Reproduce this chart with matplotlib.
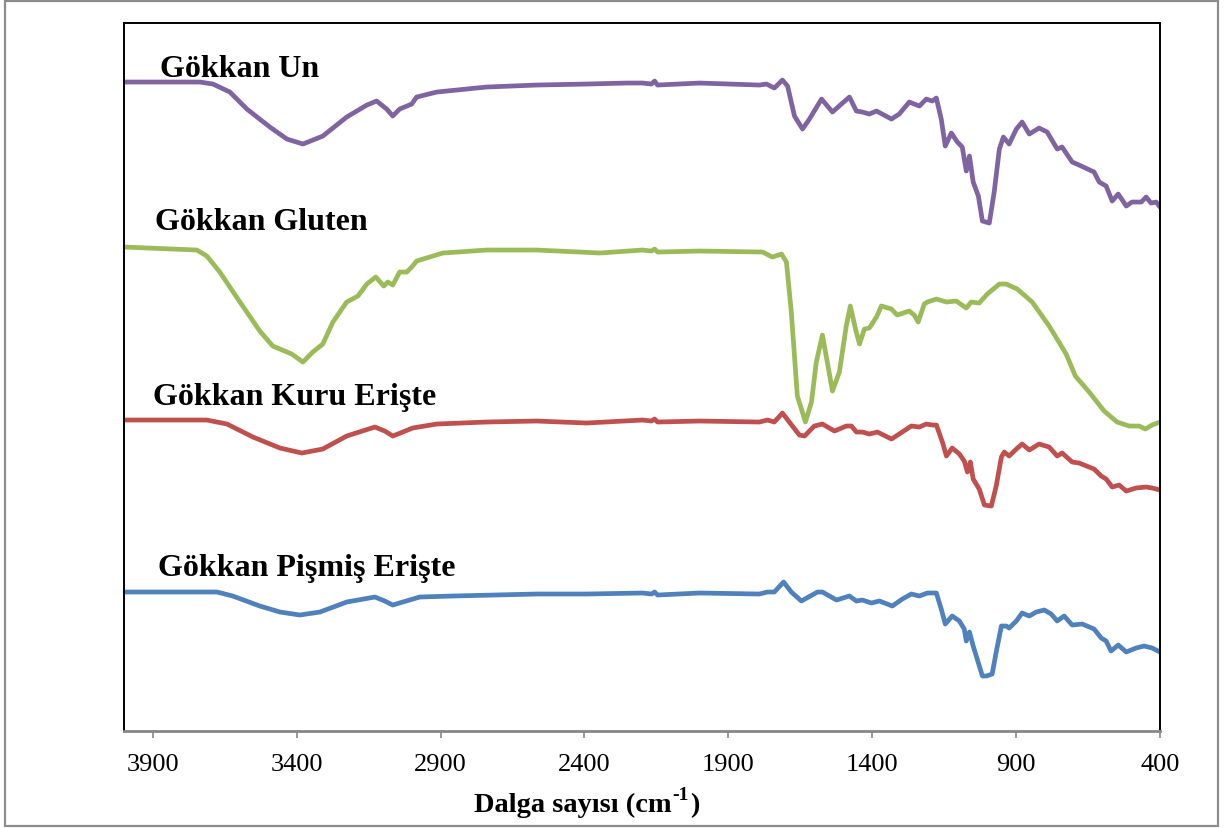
import matplotlib.pyplot as plt
from matplotlib.patches import Rectangle

# FTIR spektrumları (dalga sayısı cm-1, göreli geçirgenlik - kaydırılmış)
un_wn = [4000, 3736, 3691, 3632, 3573, 3493, 3434, 3378, 3309, 3226, 3156, 3122, 3087, 3066, 3042,
         3000, 2983, 2913, 2740, 2566, 2392, 2254, 2198, 2167, 2156, 2146, 2000, 1792, 1767, 1740,
         1712, 1694, 1670, 1642, 1618, 1576, 1538, 1507, 1479, 1455, 1434, 1410, 1385, 1333, 1306,
         1271, 1236, 1212, 1191, 1177, 1160, 1146, 1125, 1104, 1087, 1073, 1062, 1049, 1031, 1017,
         993, 976, 958, 944, 924, 899, 879, 854, 820, 792, 757, 740, 705, 681, 629, 611, 587, 566,
         545, 517, 497, 465, 448, 431, 413, 400]
un_t = [65.0, 65.0, 64.8, 64.0, 62.3, 60.5, 59.3, 58.8, 59.6, 61.5, 62.7, 63.1, 62.3, 61.6, 62.3,
        62.8, 63.5, 64.0, 64.5, 64.7, 64.8, 64.9, 64.9, 64.8, 65.1, 64.7, 64.9, 64.7, 64.8, 64.4,
        65.2, 64.6, 61.6, 60.3, 61.3, 63.3, 62.0, 62.8, 63.5, 62.1, 62.0, 61.8, 62.1, 61.3, 61.8,
        63.0, 62.6, 63.3, 63.1, 63.4, 61.3, 58.6, 59.9, 59.0, 58.5, 56.1, 57.6, 55.0, 53.6, 51.1,
        50.9, 54.0, 58.3, 59.5, 58.8, 60.3, 61.0, 59.8, 60.4, 60.0, 58.3, 58.5, 57.0, 56.7, 56.0,
        55.0, 54.6, 53.1, 53.8, 52.6, 53.0, 53.0, 53.5, 52.9, 53.0, 52.5]

gluten_wn = [4000, 3747, 3712, 3667, 3597, 3528, 3483, 3417, 3378, 3344, 3309, 3274, 3226, 3187,
             3156, 3125, 3097, 3083, 3066, 3042, 3017, 2997, 2983, 2892, 2740, 2566, 2417, 2347,
             2198, 2167, 2156, 2146, 2000, 1781, 1747, 1715, 1698, 1681, 1660, 1632, 1611, 1594,
             1573, 1556, 1538, 1514, 1490, 1476, 1458, 1444, 1427, 1410, 1385, 1368, 1333, 1313,
             1271, 1254, 1240, 1219, 1208, 1177, 1142, 1108, 1073, 1056, 1028, 1000, 958, 934, 896,
             844, 785, 726, 694, 646, 594, 549, 507, 472, 451, 427, 400]
gluten_t = [48.5, 48.2, 47.6, 46.0, 43.0, 40.1, 38.6, 37.8, 37.0, 38.0, 38.8, 41.0, 43.0, 43.6,
            44.8, 45.5, 44.6, 45.0, 44.7, 46.0, 46.0, 46.6, 47.1, 47.9, 48.2, 48.2, 48.0, 47.9,
            48.2, 48.1, 48.3, 48.0, 48.1, 48.0, 47.5, 47.8, 47.0, 42.0, 33.6, 31.0, 33.0, 37.0,
            39.7, 37.0, 34.1, 36.0, 40.6, 42.6, 40.3, 38.8, 40.3, 40.4, 41.5, 42.6, 42.3, 41.7,
            42.1, 41.7, 41.0, 42.8, 43.0, 43.3, 43.0, 43.1, 42.4, 43.0, 42.9, 43.8, 44.8, 44.8, 44.3,
            43.0, 40.6, 37.8, 35.6, 34.0, 32.1, 31.0, 30.6, 30.6, 30.3, 30.7, 31.0]

kuru_wn = [4000, 3712, 3642, 3552, 3458, 3382, 3309, 3226, 3128, 3094, 3066, 3031, 2997, 2913,
           2740, 2566, 2392, 2198, 2167, 2156, 2146, 2000, 1792, 1764, 1740, 1712, 1688, 1653, 1635,
           1601, 1573, 1531, 1490, 1472, 1455, 1434, 1410, 1382, 1333, 1306, 1264, 1236, 1212,
           1191, 1177, 1156, 1142, 1122, 1097, 1080, 1069, 1059, 1049, 1028, 1010, 986, 969, 951,
           941, 924, 899, 879, 854, 820, 785, 757, 740, 705, 681, 629, 604, 587, 566, 542, 517,
           483, 448, 427, 400]
kuru_t = [31.2, 31.2, 30.8, 29.5, 28.4, 27.9, 28.3, 29.6, 30.5, 30.1, 29.6, 30.0, 30.4, 30.8,
          31.0, 31.1, 30.9, 31.2, 31.1, 31.3, 31.0, 31.1, 31.0, 31.2, 31.0, 31.9, 31.0, 29.7, 29.6,
          30.6, 30.8, 30.1, 30.6, 30.6, 30.0, 30.0, 29.8, 30.0, 29.3, 29.8, 30.6, 30.5, 30.8,
          30.7, 30.7, 29.0, 27.6, 28.4, 27.8, 27.1, 26.0, 27.0, 25.3, 24.3, 22.7, 22.6, 24.6, 27.5,
          28.0, 27.6, 28.3, 28.8, 28.2, 28.8, 28.5, 27.6, 27.9, 27.0, 26.9, 26.3, 25.6, 25.3, 24.5,
          24.7, 24.1, 24.4, 24.5, 24.4, 24.2]

pismis_wn = [4000, 3677, 3622, 3528, 3458, 3389, 3319, 3226, 3128, 3094, 3066, 3031, 2972, 2858,
             2566, 2392, 2198, 2167, 2156, 2146, 2000, 1792, 1764, 1740, 1708, 1681, 1646, 1590,
             1573, 1524, 1479, 1455, 1434, 1403, 1375, 1330, 1295, 1264, 1236, 1208, 1177, 1160,
             1146, 1122, 1097, 1080, 1073, 1062, 1049, 1017, 1003, 983, 969, 951, 934, 924, 899,
             879, 854, 830, 802, 778, 757, 733, 705, 670, 629, 604, 587, 570, 545, 517, 483, 455,
             427, 400]
pismis_t = [14.0, 14.0, 13.6, 12.6, 12.0, 11.7, 12.0, 13.0, 13.5, 13.1, 12.7, 13.0, 13.5, 13.6,
            13.8, 13.8, 13.9, 13.8, 14.0, 13.7, 13.9, 13.8, 14.0, 14.0, 15.0, 14.0, 13.1, 14.0,
            14.0, 13.2, 13.6, 13.1, 13.2, 12.9, 13.1, 12.6, 13.3, 13.8, 13.6, 13.9, 13.9, 12.3,
            10.8, 11.6, 11.1, 10.3, 9.1, 10.0, 8.6, 5.6, 5.6, 5.8, 8.0, 10.6, 10.6, 10.4, 11.1,
            11.9, 11.6, 12.0, 12.2, 11.8, 11.1, 11.6, 10.7, 10.8, 10.3, 9.4, 9.1, 8.1, 8.7, 8.0,
            8.4, 8.6, 8.4, 8.0]

labels = ["Gökkan Un", "Gökkan Gluten", "Gökkan Kuru Erişte", "Gökkan Pişmiş Erişte"]
colors = ["#8064A2", "#9BBB59", "#C0504D", "#4F81BD"]
xticks = [3900, 3400, 2900, 2400, 1900, 1400, 900, 400]

plt.rcParams['font.family'] = ['Liberation Serif', 'DejaVu Serif']

fig = plt.figure(figsize=(12.25, 8.29), dpi=100)
ax = fig.add_axes([0.1012, 0.117, 0.8457, 0.854])

series = [(un_wn, un_t), (gluten_wn, gluten_t), (kuru_wn, kuru_t), (pismis_wn, pismis_t)]
for (wn, t), c in zip(series, colors):
    ax.plot(wn, t, color=c, lw=3.4, solid_joinstyle='round', solid_capstyle='round')

# etiketler (x: dalga sayısı, y: taban çizgisi)
label_pos = [(3875, 65.6), (3892, 50.3), (3899, 32.8), (3882, 15.7)]
for lab, (lx, ly) in zip(labels, label_pos):
    ax.text(lx, ly, lab, fontsize=23, fontweight='bold', va='baseline', ha='left')

ax.set_xlim(4000, 400)
ax.set_ylim(0.1, 70.9)
ax.set_xticks(xticks)
ax.set_xticklabels([str(v) for v in xticks], fontsize=19)
ax.set_yticks([])
ax.tick_params(axis='x', direction='out', length=5, width=1.2, color='#868686', pad=11)

for side in ['top', 'left', 'right']:
    ax.spines[side].set_color('black')
    ax.spines[side].set_linewidth(1.4)
ax.spines['bottom'].set_color('#868686')
ax.spines['bottom'].set_linewidth(2)

# eksen başlığı: "-1" üst simge olarak ayrı yazılır
xl = fig.text(474 / 1225, 1 - 812 / 829, "Dalga sayısı (cm", fontsize=20.5, fontweight='bold',
              ha='left', va='baseline')
fig.canvas.draw()
bb = xl.get_window_extent()
sup = fig.text((bb.x1 + 1) / 1225, 1 - 800 / 829, "-1", fontsize=14, fontweight='bold',
               ha='left', va='baseline')
fig.canvas.draw()
bb2 = sup.get_window_extent()
fig.text((bb2.x1 + 1) / 1225, 1 - 812 / 829, ")", fontsize=20.5, fontweight='bold',
         ha='left', va='baseline')

# dış çerçeve
fig.patches.append(Rectangle((0.004, 0.003), 0.99, 0.995, transform=fig.transFigure,
                             fill=False, edgecolor='#8c8c8c', lw=1.6))

fig.savefig('out.png', dpi=100)
